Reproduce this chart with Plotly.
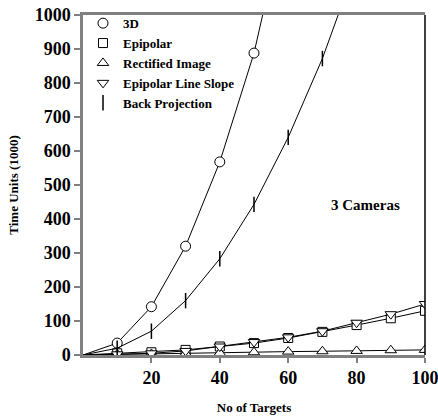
import plotly.graph_objects as go

x_targets = [0, 10, 20, 30, 40, 50, 60, 70, 80, 90, 100]
y_3d = [0, 35, 142, 320, 568, 888, 1330, None, None, None, None]
y_epipolar = [0, 5, 8, 15, 25, 35, 50, 68, 88, 108, 130]
y_rectified = [0, 2, 3, 5, 6, 8, 10, 11, 12, 14, 15]
y_epi_slope = [0, 2, 5, 12, 25, 38, 52, 70, 95, 120, 150]
y_backproj = [0, 20, 70, 160, 283, 443, 640, 872, 1150, None, None]

series = [
    ("3D", y_3d, "circle", 10),
    ("Epipolar", y_epipolar, "square", 9),
    ("Rectified Image", y_rectified, "triangle-up", 10),
    ("Epipolar Line Slope", y_epi_slope, "triangle-down", 10),
    ("Back Projection", y_backproj, "line-ns", 11),
]

FONT = "Times New Roman, Liberation Serif, DejaVu Serif, serif"
fig = go.Figure()

for name, ys, sym, size in series:
    lw = 1.5 if sym == "line-ns" else 1
    fig.add_trace(go.Scatter(
        x=x_targets, y=ys, mode="lines",
        line=dict(color="black", width=1), showlegend=False, hoverinfo="skip"))
    fig.add_trace(go.Scatter(
        x=x_targets[1:], y=ys[1:], mode="markers",
        marker=dict(symbol=sym, size=size, color="white",
                    line=dict(color="black", width=lw)),
        showlegend=False, cliponaxis=True))
    fig.add_trace(go.Scatter(
        x=[None], y=[None], mode="markers", name=name,
        marker=dict(symbol=sym, size=size, color="white",
                    line=dict(color="black", width=lw))))

fig.add_annotation(x=82.7, y=441, text="3 Cameras", showarrow=False,
                   font=dict(family=FONT, size=15, color="black", weight="bold"))

fig.add_shape(type="line", xref="paper", yref="paper", x0=1, x1=1, y0=0, y1=1,
              line=dict(color="black", width=1.5))

fig.update_layout(
    width=438, height=419,
    margin=dict(l=83, r=13, t=15, b=64, autoexpand=False),
    paper_bgcolor="white", plot_bgcolor="white",
    font=dict(family=FONT, color="black"),
    showlegend=True,
    legend=dict(x=0.0, y=1.02, xanchor="left", yanchor="top",
                bgcolor="rgba(0,0,0,0)",
                font=dict(family=FONT, size=13, weight="bold"),
                tracegroupgap=0),
    xaxis=dict(range=[0, 100], tickvals=[20, 40, 60, 80, 100],
               ticks="outside", ticklen=5, tickcolor="#808080", tickwidth=1.5,
               showline=True, linecolor="#808080", linewidth=2.5, mirror=True,
               showgrid=False, zeroline=False, automargin=False,
               ticklabeloverflow="allow",
               tickfont=dict(family=FONT, size=18, weight="bold"),
               title=dict(text="No of Targets",
                          font=dict(family=FONT, size=13, weight="bold"), standoff=16)),
    yaxis=dict(range=[0, 1000], dtick=100,
               ticks="outside", ticklen=6, tickcolor="#808080", tickwidth=1.5,
               showline=True, linecolor="#808080", linewidth=2.5,
               showgrid=False, zeroline=False, automargin=False,
               ticklabeloverflow="allow",
               tickfont=dict(family=FONT, size=18, weight="bold"),
               title=dict(text="Time Units (1000)",
                          font=dict(family=FONT, size=13, weight="bold"), standoff=14)),
)

fig.write_html("out.html")
